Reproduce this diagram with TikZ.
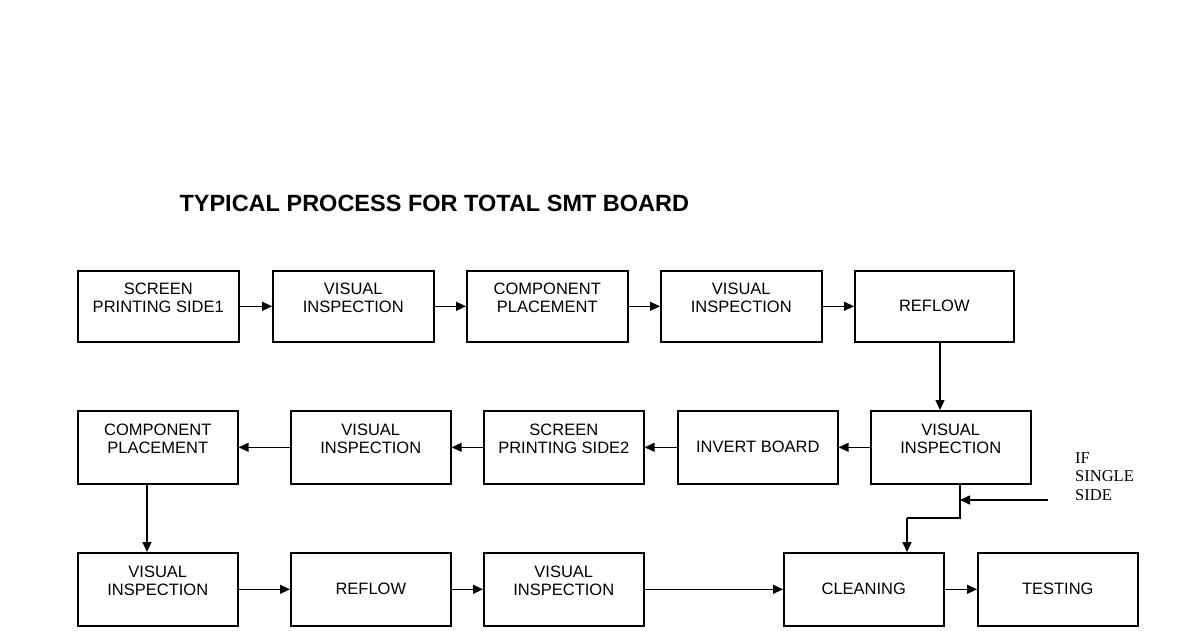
\documentclass[tikz,border=0pt]{standalone}
\usepackage{fontspec}
\setmainfont{Liberation Sans}
\newfontfamily\serifk{Liberation Serif}
\usetikzlibrary{arrows.meta}
\begin{document}
\begin{tikzpicture}[x=1pt,y=-1pt,
  bx/.style={draw,line width=1.6pt,minimum width=161pt,minimum height=71pt,inner sep=0pt,font=\fontsize{16.5}{18}\selectfont,align=center,anchor=north west},
  ar/.style={line width=1.3pt,-{Triangle[length=10pt,width=9pt]}}]
\useasboundingbox (0,0) rectangle (1200,630);
\node[font=\bfseries\fontsize{23.5}{26}\selectfont,anchor=west] (title) at (176,203) {TYPICAL PROCESS FOR TOTAL SMT BOARD};
% row 1
\node[bx] (a1) at (77,270) {SCREEN\\PRINTING SIDE1\\[0pt]\mbox{}};
\node[bx] (a2) at (272,270) {VISUAL\\INSPECTION\\[0pt]\mbox{}};
\node[bx] (a3) at (466,270) {COMPONENT\\PLACEMENT\\[0pt]\mbox{}};
\node[bx] (a4) at (660,270) {VISUAL\\INSPECTION\\[0pt]\mbox{}};
\node[bx,minimum width=159pt] (a5) at (854,270) {\raisebox{-6pt}{REFLOW}};
% row 2
\node[bx,minimum width=160pt,minimum height=73pt] (b1) at (77,410) {COMPONENT\\PLACEMENT\\[0pt]\mbox{}};
\node[bx,minimum width=160pt,minimum height=73pt] (b2) at (290,410) {VISUAL\\INSPECTION\\[0pt]\mbox{}};
\node[bx,minimum width=160pt,minimum height=73pt] (b3) at (483,410) {SCREEN\\PRINTING SIDE2\\[0pt]\mbox{}};
\node[bx,minimum width=160pt,minimum height=73pt] (b4) at (677,410) {INVERT BOARD};
\node[bx,minimum width=160pt,minimum height=73pt] (b5) at (870,410) {VISUAL\\INSPECTION\\[0pt]\mbox{}};
% row 3
\node[bx,minimum width=160pt,minimum height=73pt] (c1) at (77,552) {VISUAL\\INSPECTION\\[0pt]\mbox{}};
\node[bx,minimum width=160pt,minimum height=73pt] (c2) at (290,552) {REFLOW};
\node[bx,minimum width=160pt,minimum height=73pt] (c3) at (483,552) {VISUAL\\INSPECTION\\[0pt]\mbox{}};
\node[bx,minimum width=160pt,minimum height=73pt] (c4) at (783,552) {CLEANING};
\node[bx,minimum width=160pt,minimum height=73pt] (c5) at (977,552) {TESTING};
\node[font=\serifk\fontsize{16.5}{18.5}\selectfont,align=left,anchor=north west,inner sep=0pt] (note) at (1075,452) {IF\\SINGLE\\SIDE};
% arrows
\draw[ar] (a1.east) -- (a2.west);
\draw[ar] (a2.east) -- (a3.west);
\draw[ar] (a3.east) -- (a4.west);
\draw[ar] (a4.east) -- (a5.west);
\draw[ar] (a5.south -| 940,0) -- (b5.north -| 940,0);
\draw[ar] (b5.west) -- (b4.east);
\draw[ar] (b4.west) -- (b3.east);
\draw[ar] (b3.west) -- (b2.east);
\draw[ar] (b2.west) -- (b1.east);
\draw[ar] (b1.south -| 147,0) -- (c1.north -| 147,0);
\draw[ar] (c1.east) -- (c2.west);
\draw[ar] (c2.east) -- (c3.west);
\draw[ar] (c3.east) -- (c4.west);
\draw[ar] (c4.east) -- (c5.west);
\coordinate (j) at (960,500);
\coordinate (s) at (1048,500);
\draw[line width=1.6pt] (b5.south -| j) -- (960,518) -- (907,518) coordinate (k);
\draw[ar,line width=1.6pt] (k) -- (k |- c4.north);
\draw[ar,line width=1.6pt] (s) -- (j);
\end{tikzpicture}
\end{document}
